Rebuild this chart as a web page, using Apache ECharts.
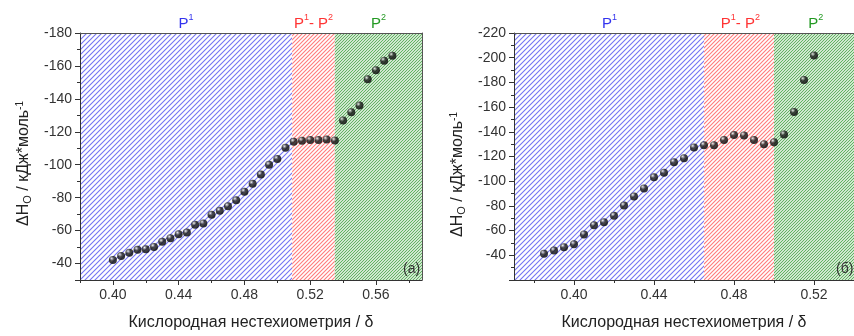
<!DOCTYPE html>
<html>
<head>
<meta charset="utf-8">
<script src="https://cdn.jsdelivr.net/npm/echarts@6/dist/echarts.min.js"></script>
<style>
  html, body { margin: 0; padding: 0; background: #fff; }
  #chart { width: 854px; height: 336px; }
</style>
</head>
<body>
<div id="chart"></div>
<script>
// (a) левый график
const deltaA = [0.400, 0.405, 0.410, 0.415, 0.420, 0.425, 0.430, 0.435, 0.440, 0.445,
  0.450, 0.455, 0.460, 0.465, 0.470, 0.475, 0.480, 0.485, 0.490, 0.495,
  0.500, 0.505, 0.510, 0.515, 0.520, 0.525, 0.530, 0.535,
  0.540, 0.545, 0.550, 0.555, 0.560, 0.565, 0.570]
const dHa = [-42.1, -44.5, -46.5, -48.3, -48.7, -50.1, -53.2, -55.4, -57.8, -58.8,
  -63.6, -64.3, -69.6, -72.0, -74.8, -78.4, -83.6, -88.4, -94.0, -100.0,
  -103.5, -110.3, -114.0, -114.6, -115.0, -115.0, -115.3, -114.7,
  -126.9, -131.9, -135.9, -151.9, -157.4, -163.2, -166.2]
// границы областей P1 | P1-P2 | P2
const regionsA = [0.38, 0.509, 0.535, 0.588]

// (б) правый график
const deltaB = [0.385, 0.390, 0.395, 0.400, 0.405, 0.410, 0.415, 0.420, 0.425, 0.430,
  0.435, 0.440, 0.445, 0.450, 0.455, 0.460, 0.465, 0.470, 0.475, 0.480,
  0.485, 0.490, 0.495, 0.500, 0.505, 0.510, 0.515, 0.520]
const dHb = [-41.3, -43.9, -46.6, -49.0, -56.9, -64.4, -66.8, -72.0, -80.3, -87.7,
  -94.1, -103.1, -106.9, -115.4, -118.6, -127.3, -129.2, -129.2, -133.4, -137.4,
  -137.1, -133.4, -130.0, -131.6, -137.9, -156.0, -182.0, -201.7]
const regionsB = [0.37, 0.465, 0.50, 0.54]

// подписи осей
const xMajorA = [0.40, 0.44, 0.48, 0.52, 0.56]
const xMinorA = [0.38, 0.42, 0.46, 0.50, 0.54, 0.58]
const xMajorB = [0.40, 0.44, 0.48, 0.52]
const xMinorB = [0.38, 0.42, 0.46, 0.50, 0.54]
const regionNames = ['{p|P}{s|1}', '{p|P}{s|1}{p|- P}{s|2}', '{p|P}{s|2}']
const regionColors = ['#3333ee', '#ff3333', '#229922']

/* штриховка */
function hatch(size, bg, line, width) {
  const c = document.createElement('canvas')
  c.width = size; c.height = size
  const ctx = c.getContext('2d')
  ctx.fillStyle = bg
  ctx.fillRect(0, 0, size, size)
  ctx.strokeStyle = line
  ctx.lineWidth = width
  ctx.beginPath()
  ctx.moveTo(-1, size + 1); ctx.lineTo(size + 1, -1)
  ctx.moveTo(-1, 1); ctx.lineTo(1, -1)
  ctx.moveTo(size - 1, size + 1); ctx.lineTo(size + 1, size - 1)
  ctx.stroke()
  return { image: c, repeat: 'repeat' }
}
const fills = [
  hatch(5, '#ffffff', 'rgba(80,80,240,0.8)', 1.1),
  hatch(4, '#ffffff', 'rgba(255,90,90,0.8)', 1.1),
  hatch(3, '#cfe7cf', 'rgba(70,165,70,0.8)', 1)
]

function areas(bounds) {
  return bounds.slice(0, 3).map((b, i) => [
    { xAxis: b, itemStyle: { color: fills[i] } },
    { xAxis: bounds[i + 1] }
  ])
}

const sphere = {
  type: 'radial', x: 0.35, y: 0.3, r: 0.75,
  colorStops: [
    { offset: 0, color: '#ffffff' },
    { offset: 0.15, color: '#999' },
    { offset: 0.4, color: '#1a1a1a' },
    { offset: 1, color: '#000' }
  ]
}

const font = 'Liberation Sans, Arial, sans-serif'
const axisColor = '#333'

const grids = [
  { left: 80, top: 33, width: 342, height: 251 },
  { left: 514, top: 33, width: 342, height: 251 }
]

function xMain(gi, min, max, major) {
  return {
    gridIndex: gi, type: 'value', min: min, max: max, position: 'bottom', z: 5,
    name: 'Кислородная нестехиометрия / δ', nameLocation: 'middle', nameGap: 35,
    nameTextStyle: { fontFamily: font, fontSize: 16, color: '#222' },
    axisLine: { show: true, onZero: false, lineStyle: { color: axisColor, width: 1 } },
    axisTick: { show: true, length: 5, customValues: major, lineStyle: { color: axisColor } },
    axisLabel: { customValues: major, margin: 8, fontFamily: font, fontSize: 14, color: '#333',
      formatter: v => v.toFixed(2) },
    splitLine: { show: false }
  }
}
function xMinor(gi, min, max, minor) {
  return {
    gridIndex: gi, type: 'value', min: min, max: max, position: 'bottom', z: 5,
    axisLine: { show: false, onZero: false },
    axisTick: { show: true, length: 3, customValues: minor, lineStyle: { color: axisColor } },
    axisLabel: { show: false },
    splitLine: { show: false }
  }
}
function xTop(gi, min, max) {
  return {
    gridIndex: gi, type: 'value', min: min, max: max, position: 'top', z: 5,
    axisLine: { show: true, onZero: false, lineStyle: { color: '#555' } },
    axisTick: { show: false }, axisLabel: { show: false }, splitLine: { show: false }
  }
}
function yMain(gi, min, max, pad) {
  return {
    gridIndex: gi, type: 'value', inverse: true, min: min, max: max, interval: 20, z: 5,
    name: '{t|ΔH}{s|O}{t| / кДж*моль}{p|-1}',
    nameLocation: 'middle', nameGap: 47,
    nameTextStyle: {
      fontFamily: font, color: '#222', padding: [0, pad, 0, 0],
      rich: {
        t: { fontFamily: font, fontSize: 16, color: '#222', lineHeight: 18 },
        s: { fontFamily: font, fontSize: 11, color: '#222', lineHeight: 12, verticalAlign: 'bottom', padding: [6, 0, 0, 0] },
        p: { fontFamily: font, fontSize: 10, color: '#222', lineHeight: 12, verticalAlign: 'top' }
      }
    },
    axisLine: { show: true, onZero: false, lineStyle: { color: axisColor } },
    axisTick: { show: true, length: 5, lineStyle: { color: axisColor } },
    minorTick: { show: true, splitNumber: 2, length: 3, lineStyle: { color: axisColor } },
    axisLabel: { margin: 8, fontFamily: font, fontSize: 14, color: '#333',
      formatter: v => (v === max ? '' : String(v)) },
    splitLine: { show: false }
  }
}
function yRight(gi, min, max) {
  return {
    gridIndex: gi, type: 'value', inverse: true, min: min, max: max, position: 'right', z: 5,
    axisLine: { show: true, onZero: false, lineStyle: { color: '#555' } },
    axisTick: { show: false }, axisLabel: { show: false }, splitLine: { show: false }
  }
}

function series(xi, yi, xs, ys, bounds) {
  return {
    type: 'scatter', xAxisIndex: xi, yAxisIndex: yi, z: 3,
    data: xs.map((x, i) => [x, ys[i]]),
    symbol: 'circle', symbolSize: 8,
    itemStyle: { color: sphere },
    markArea: { silent: true, data: areas(bounds) }
  }
}

function regionLabels(bounds, gi) {
  const g = grids[gi]
  const k = g.width / (bounds[3] - bounds[0])
  return regionNames.map((name, i) => {
    const col = regionColors[i]
    return {
      type: 'text', z: 10,
      x: g.left + ((bounds[i] + bounds[i + 1]) / 2 - bounds[0]) * k,
      y: 13,
      style: {
        text: name, align: 'center', fill: col,
        rich: {
          p: { fontFamily: font, fontSize: 15, fill: col, lineHeight: 18, verticalAlign: 'bottom' },
          s: { fontFamily: font, fontSize: 9, fill: col, lineHeight: 18, verticalAlign: 'top', padding: [0, 0, 8, 0] }
        }
      }
    }
  })
}

const chart = echarts.init(document.getElementById('chart'), null, { renderer: 'canvas' })
chart.setOption({
  animation: false,
  backgroundColor: '#fff',
  grid: grids,
  xAxis: [
    xMain(0, regionsA[0], regionsA[3], xMajorA),
    xMinor(0, regionsA[0], regionsA[3], xMinorA),
    xTop(0, regionsA[0], regionsA[3]),
    xMain(1, regionsB[0], regionsB[3], xMajorB),
    xMinor(1, regionsB[0], regionsB[3], xMinorB),
    xTop(1, regionsB[0], regionsB[3])
  ],
  yAxis: [
    yMain(0, -180, -30, 14),
    yRight(0, -180, -30),
    yMain(1, -220, -20, 36)
  ],
  series: [
    series(0, 0, deltaA, dHa, regionsA),
    series(3, 2, deltaB, dHb, regionsB)
  ],
  graphic: [
    ...regionLabels(regionsA, 0),
    ...regionLabels(regionsB, 1),
    { type: 'text', x: 403, y: 262, z: 10,
      style: { text: '(a)', fontFamily: font, fontSize: 14, fill: '#333' } },
    { type: 'text', x: 836, y: 262, z: 10,
      style: { text: '(б)', fontFamily: font, fontSize: 14, fill: '#333' } }
  ]
})
</script>
</body>
</html>
